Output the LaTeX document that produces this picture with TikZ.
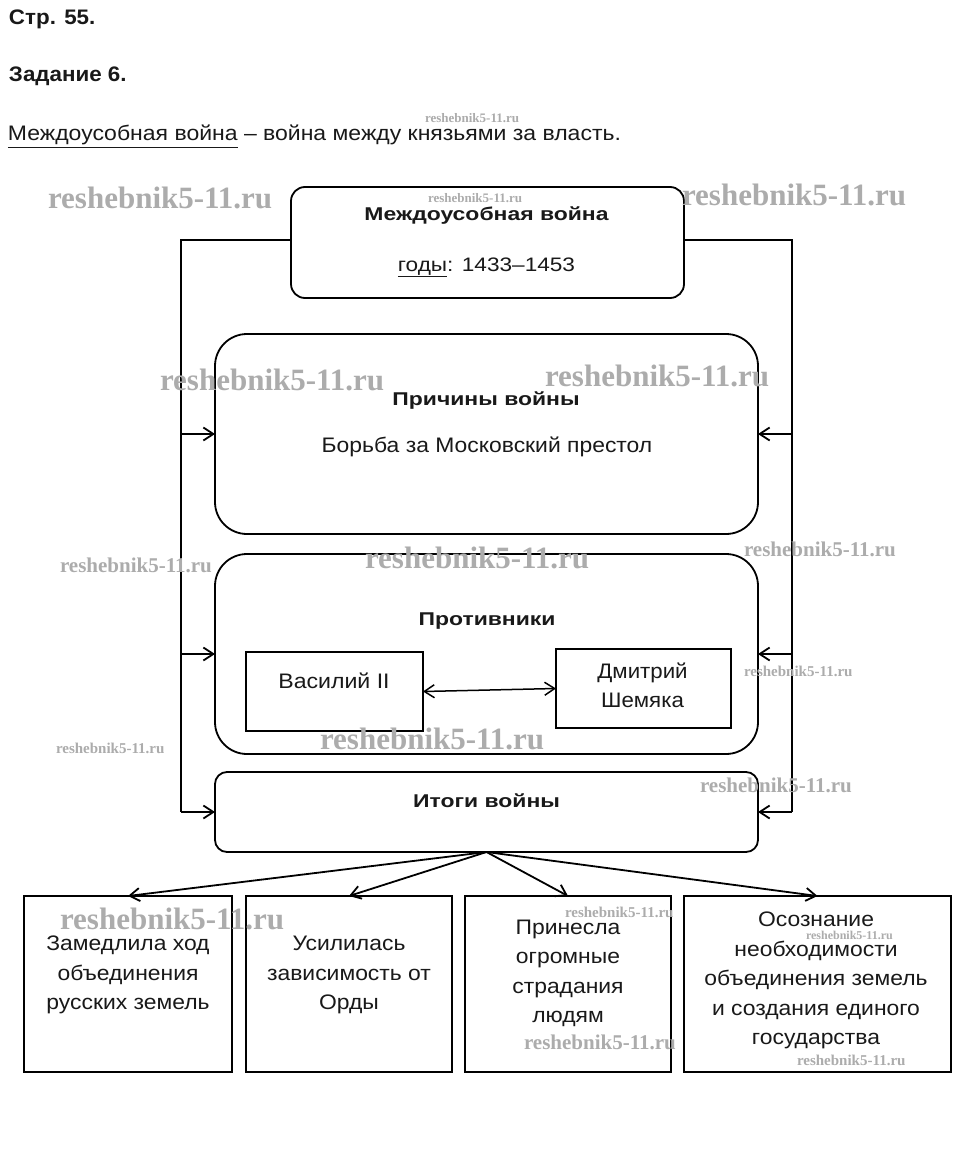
\documentclass[tikz,border=0pt]{standalone}
\usepackage{fontspec}
\setmainfont{Liberation Sans}
\newfontfamily\wmfont{Liberation Serif}
\usetikzlibrary{arrows.meta}
\begin{document}
\begin{tikzpicture}[x=1pt,y=-1pt,
  every node/.style={inner sep=0pt, outer sep=0pt},
  txt/.style={font={\fontsize{21}{29.5}\selectfont\addfontfeatures{FakeStretch=1.09}}, text=black!90, align=center},
  hd/.style={font={\fontsize{18.5}{22}\selectfont\bfseries\addfontfeatures{FakeStretch=1.24}}, text=black!90},
  hdtop/.style={font={\fontsize{21}{24}\selectfont\bfseries\addfontfeatures{FakeStretch=1.065}}, text=black!90, anchor=base west},
  rbox/.style={draw, line width=1.8pt, rounded corners=#1},
  sbox/.style={draw, line width=1.8pt},
  conn/.style={line width=1.8pt},
  arr/.style={-{Straight Barb[length=10pt,width=13pt]}, line width=1.8pt},
  darr/.style={{Straight Barb[length=10pt,width=13pt]}-{Straight Barb[length=10pt,width=13pt]}, line width=1.5pt},
  wm/.style={font=\fontsize{#1}{#1}\wmfont\bfseries, text=gray!65, anchor=west}
]
\useasboundingbox (0,0) rectangle (960,1166);
\fill[white] (0,0) rectangle (960,1166);

% header texts
\node[hdtop] (page) at (9,25) {Стр. 55.};
\node[hdtop] (task) at (9,82) {Задание 6.};
\node[txt, anchor=base west, font={\fontsize{21}{24}\selectfont\addfontfeatures{FakeStretch=1.095}}] (def) at (8,141) {\underline{Междоусобная война} – война между князьями за власть.};

% boxes
\node[rbox=14pt, minimum width=393pt, minimum height=111pt] (top) at (487.5,242.5) {};
\node[rbox=32pt, minimum width=543pt, minimum height=200pt] (prich) at (486.5,434) {};
\node[rbox=32pt, minimum width=543pt, minimum height=200pt] (prot) at (486.5,654) {};
\node[rbox=12pt, minimum width=543pt, minimum height=80pt] (itogi) at (486.5,812) {};
\node[sbox, minimum width=177pt, minimum height=79pt] (vas) at (334.5,691.5) {};
\node[sbox, minimum width=175pt, minimum height=79pt] (dm) at (643.5,688.5) {};
\node[sbox, minimum width=208pt, minimum height=176pt] (b1) at (128,984) {};
\node[sbox, minimum width=206pt, minimum height=176pt] (b2) at (349,984) {};
\node[sbox, minimum width=206pt, minimum height=176pt] (b3) at (568,984) {};
\node[sbox, minimum width=267pt, minimum height=176pt] (b4) at (817.5,984) {};

% box texts
\node[hd, anchor=base] (t1) at (486.5,221) {Междоусобная война};
\node[txt, anchor=base, font={\fontsize{19.5}{24}\selectfont\addfontfeatures{FakeStretch=1.16}}] (t2) at (486.5,271) {\underline{годы}: 1433–1453};
\node[hd, anchor=base] (t3) at (486,405) {Причины войны};
\node[txt, anchor=base] (t4) at (487,452) {Борьба за Московский престол};
\node[hd, anchor=base] (t5) at (487,625) {Противники};
\node[txt, anchor=base, font={\fontsize{21}{24}\selectfont\addfontfeatures{FakeStretch=1.1}}] (t6) at (334,688) {Василий II};
\node[txt, anchor=north, font={\fontsize{21}{28.5}\selectfont\addfontfeatures{FakeStretch=1.06}}] (t7) at (642.5,663) {Дмитрий\\Шемяка};
\node[hd, anchor=base] (t8) at (486.5,807) {Итоги войны};
\node[txt, anchor=north] (t9) at (128,936) {Замедлила ход\\объединения\\русских земель};
\node[txt, anchor=north] (t10) at (349,936.5) {Усилилась\\зависимость от\\Орды};
\node[txt, anchor=north] (t11) at (568,920) {Принесла\\огромные\\страдания\\людям};
\node[txt, anchor=north] (t12) at (816,912) {Осознание\\необходимости\\объединения земель\\и создания единого\\государства};

% frame connectors
\coordinate (L) at (181,240);
\coordinate (R) at (792,240);
\draw[conn] (top.west |- L) -- (L) -- (L |- itogi.west);
\draw[conn] (top.east |- R) -- (R) -- (R |- itogi.east);
\draw[arr] (L |- prich.west) -- (prich.west);
\draw[arr] (L |- prot.west) -- (prot.west);
\draw[arr] (L |- itogi.west) -- (itogi.west);
\draw[arr] (R |- prich.east) -- (prich.east);
\draw[arr] (R |- prot.east) -- (prot.east);
\draw[arr] (R |- itogi.east) -- (itogi.east);
\draw[darr] (vas.east) -- (dm.west);
\foreach \b in {b1,b2,b3,b4} \draw[arr] (itogi.south) -- (\b.north);

% watermarks
\node[wm=31] (w1) at (48,198) {reshebnik5-11.ru};
\node[wm=31] (w2) at (682,195) {reshebnik5-11.ru};
\node[wm=31] (w3) at (160,380) {reshebnik5-11.ru};
\node[wm=31] (w4) at (545,376) {reshebnik5-11.ru};
\node[wm=31] (w5) at (365,558) {reshebnik5-11.ru};
\node[wm=31] (w6) at (320,739) {reshebnik5-11.ru};
\node[wm=31] (w7) at (60,919) {reshebnik5-11.ru};
\node[wm=13] (w8) at (425,118) {reshebnik5-11.ru};
\node[wm=13] (w9) at (428,198) {reshebnik5-11.ru};
\node[wm=21] (w10) at (60,565) {reshebnik5-11.ru};
\node[wm=21] (w11) at (744,549) {reshebnik5-11.ru};
\node[wm=15] (w12) at (56,748) {reshebnik5-11.ru};
\node[wm=15] (w13) at (744,671) {reshebnik5-11.ru};
\node[wm=21] (w14) at (700,785) {reshebnik5-11.ru};
\node[wm=15] (w15) at (565,912) {reshebnik5-11.ru};
\node[wm=21] (w16) at (524,1042) {reshebnik5-11.ru};
\node[wm=15] (w17) at (797,1060) {reshebnik5-11.ru};
\node[wm=12] (w18) at (806,935.5) {reshebnik5-11.ru};
\end{tikzpicture}
\end{document}
